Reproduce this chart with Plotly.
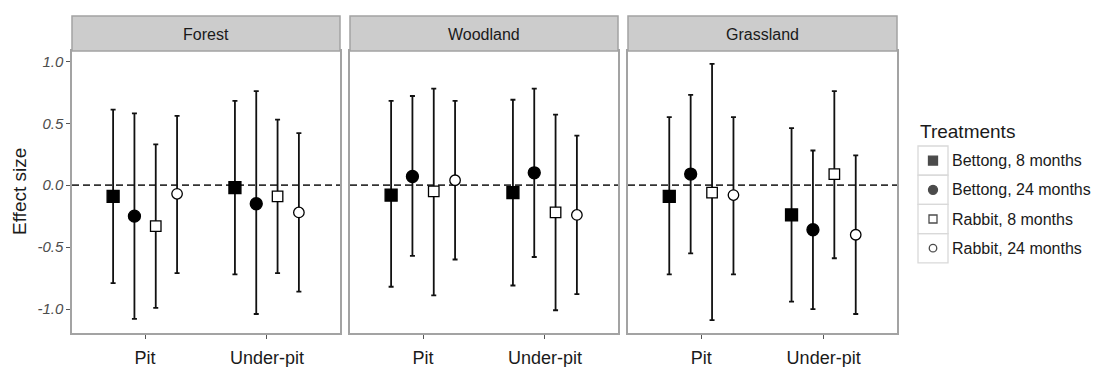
import plotly.graph_objects as go

# ---- data -------------------------------------------------------------
habitats = ["Forest", "Woodland", "Grassland"]
positions = ["Pit", "Under-pit"]
treatments = ["Bettong, 8 months", "Bettong, 24 months",
              "Rabbit, 8 months", "Rabbit, 24 months"]

# rows follow `treatments`, columns follow `positions`
forest_mean = [[-0.09, -0.02], [-0.25, -0.15], [-0.33, -0.09], [-0.07, -0.22]]
forest_lower = [[-0.79, -0.72], [-1.08, -1.04], [-0.99, -0.71], [-0.71, -0.86]]
forest_upper = [[0.61, 0.68], [0.58, 0.76], [0.33, 0.53], [0.56, 0.42]]

woodland_mean = [[-0.08, -0.06], [0.07, 0.10], [-0.05, -0.22], [0.04, -0.24]]
woodland_lower = [[-0.82, -0.81], [-0.57, -0.58], [-0.89, -1.01], [-0.60, -0.88]]
woodland_upper = [[0.68, 0.69], [0.72, 0.78], [0.78, 0.57], [0.68, 0.40]]

grassland_mean = [[-0.09, -0.24], [0.09, -0.36], [-0.06, 0.09], [-0.08, -0.40]]
grassland_lower = [[-0.72, -0.94], [-0.55, -1.00], [-1.09, -0.59], [-0.72, -1.04]]
grassland_upper = [[0.55, 0.46], [0.73, 0.28], [0.98, 0.76], [0.55, 0.24]]

y_tick_values = [-1.0, -0.5, 0.0, 0.5, 1.0]
y_tick_labels = ["-1.0", "-0.5", "0.0", "0.5", "1.0"]

# ---- styling ----------------------------------------------------------
W, H = 1101, 367
FONT = "Liberation Sans, Arial, sans-serif"
BORDER = "#a3a3a3"
STRIP_FILL = "#cccccc"

symbols = ["square", "circle", "square", "circle"]
fills = ["black", "black", "white", "white"]
sizes = [12, 12, 10.5, 10.5]
legend_sizes = [9, 9, 8, 7.5]

panel_px = [(72, 340), (350, 618), (628, 897)]
panel_top, panel_bottom, strip_top = 51, 333, 16

dodge_width = 0.7
n_tr = len(treatments)
offsets = [dodge_width * ((i + 0.5) / n_tr - 0.5) for i in range(n_tr)]

all_vals = [v for block in (forest_lower, forest_upper, woodland_lower, woodland_upper,
                            grassland_lower, grassland_upper) for row in block for v in row]
lo, hi = min(all_vals), max(all_vals)
pad = 0.05 * (hi - lo)
y_range = [lo - pad, hi + pad]

panels = [
    (forest_mean, forest_lower, forest_upper),
    (woodland_mean, woodland_lower, woodland_upper),
    (grassland_mean, grassland_lower, grassland_upper),
]


def py(v):
    """Pixel row (from top) -> paper fraction."""
    return 1 - v / H


fig = go.Figure()

for p, (mean, lower, upper) in enumerate(panels):
    xa = "x" if p == 0 else f"x{p + 1}"
    ya = "y" if p == 0 else f"y{p + 1}"
    for t in range(n_tr):
        xs = [k + 1 + offsets[t] for k in range(len(positions))]
        m = mean[t]
        fig.add_trace(go.Scatter(
            x=xs, y=m, xaxis=xa, yaxis=ya, mode="markers", showlegend=False,
            name=treatments[t],
            marker=dict(symbol=symbols[t], size=sizes[t], color=fills[t],
                        line=dict(color="black", width=1.3)),
            error_y=dict(type="data", symmetric=False,
                         array=[u - v for u, v in zip(upper[t], m)],
                         arrayminus=[v - l for v, l in zip(m, lower[t])],
                         color="#111111", thickness=1.8, width=2.5),
        ))

# ---- axes ---------------------------------------------------------------
layout_axes = {}
for p, (x0, x1) in enumerate(panel_px):
    sx = "" if p == 0 else str(p + 1)
    layout_axes[f"xaxis{sx}"] = dict(
        domain=[x0 / W, x1 / W], range=[0.4, 2.6], anchor=f"y{sx}",
        tickvals=[1, 2], ticktext=positions, ticks="outside", ticklen=4,
        tickcolor="#555555", tickwidth=1.3, showline=True, mirror=True,
        linecolor=BORDER, linewidth=1.5, showgrid=False, zeroline=False,
        tickfont=dict(family=FONT, size=18, color="#1a1a1a"),
        ticklabelstandoff=4,
        fixedrange=True,
    )
    layout_axes[f"yaxis{sx}"] = dict(
        domain=[py(panel_bottom), py(panel_top)], range=y_range,
        anchor=f"x{sx}", showline=True, mirror=True, linecolor=BORDER,
        linewidth=1.5, showgrid=False, zeroline=False,
        tickvals=y_tick_values, ticktext=y_tick_labels,
        ticks="outside" if p == 0 else "", ticklen=4, tickcolor="#555555",
        tickwidth=1.3, showticklabels=(p == 0),
        tickfont=dict(family=FONT, size=15, color="#4d4d4d", style="italic"),
        fixedrange=True,
    )

# overlay axis in pixel units for the legend keys
layout_axes["xaxis4"] = dict(domain=[0, 1], range=[0, W], anchor="y4",
                             visible=False, fixedrange=True)
layout_axes["yaxis4"] = dict(domain=[0, 1], range=[H, 0], anchor="x4",
                             visible=False, fixedrange=True)

shapes = []
annotations = []

for p, (x0, x1) in enumerate(panel_px):
    sx = "" if p == 0 else str(p + 1)
    # strip header
    shapes.append(dict(type="rect", xref="paper", yref="paper",
                       x0=x0 / W, x1=x1 / W, y0=py(panel_top), y1=py(strip_top),
                       fillcolor=STRIP_FILL, line=dict(color=BORDER, width=1.5)))
    annotations.append(dict(text=habitats[p], xref="paper", yref="paper",
                            x=(x0 + x1) / 2 / W, y=py((panel_top + strip_top) / 2 + 1),
                            showarrow=False, xanchor="center", yanchor="middle",
                            font=dict(family=FONT, size=16, color="#1a1a1a")))
    # dashed reference line at zero
    shapes.append(dict(type="line", xref=f"x{sx} domain", yref=f"y{sx}",
                       x0=0, x1=1, y0=0, y1=0, layer="below",
                       line=dict(color="#333333", width=1.8, dash="7px,4px")))

# y-axis title
annotations.append(dict(text="Effect size", xref="paper", yref="paper",
                        x=20 / W, y=py(192), textangle=-90, showarrow=False,
                        xanchor="center", yanchor="middle",
                        font=dict(family=FONT, size=19, color="#1a1a1a")))

# legend
legend_left, legend_key_w, legend_top, legend_row = 918, 30, 146, 29.2
annotations.append(dict(text="Treatments", xref="x4", yref="y4",
                        x=legend_left, y=legend_top - 15, showarrow=False,
                        xanchor="left", yanchor="middle",
                        font=dict(family=FONT, size=19, color="#1a1a1a")))
key_x, key_y = [], []
for t in range(n_tr):
    y0 = legend_top + legend_row * t
    shapes.append(dict(type="rect", xref="x4", yref="y4", layer="below",
                       x0=legend_left, x1=legend_left + legend_key_w,
                       y0=y0, y1=y0 + legend_row,
                       fillcolor="rgba(0,0,0,0)", line=dict(color="#d9d9d9", width=1.3)))
    key_x.append(legend_left + legend_key_w / 2)
    key_y.append(y0 + legend_row / 2)
    annotations.append(dict(text=treatments[t], xref="x4", yref="y4",
                            x=legend_left + legend_key_w + 2, y=y0 + legend_row / 2,
                            showarrow=False, xanchor="left", yanchor="middle",
                            font=dict(family=FONT, size=16, color="#1a1a1a")))

fig.add_trace(go.Scatter(
    x=key_x, y=key_y, xaxis="x4", yaxis="y4", mode="markers", showlegend=False,
    marker=dict(symbol=symbols, size=legend_sizes, color=fills,
                line=dict(color="black", width=1.3)),
    hoverinfo="skip",
))

fig.update_layout(
    width=W, height=H, margin=dict(l=0, r=0, t=0, b=0),
    paper_bgcolor="white", plot_bgcolor="rgba(0,0,0,0)",
    showlegend=False, shapes=shapes, annotations=annotations,
    font=dict(family=FONT),
    **layout_axes,
)

fig.write_html("out.html", config={"displayModeBar": False})
